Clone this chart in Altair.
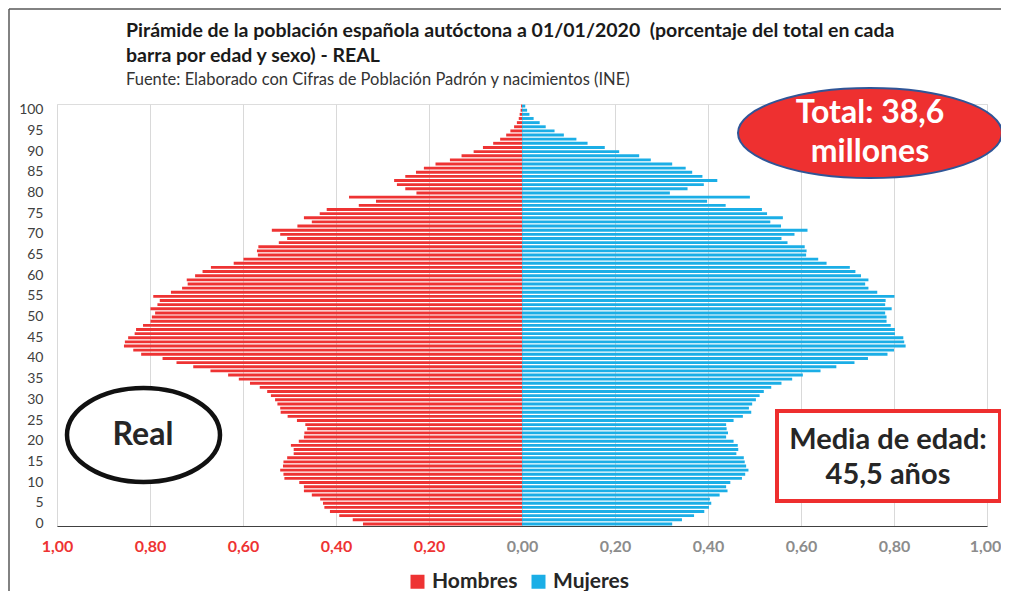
import altair as alt
import pandas as pd

# ---------------- data ----------------
edades = list(range(0, 102))

hombres = [
    0.342, 0.364, 0.393, 0.413, 0.425, 0.428, 0.434, 0.452, 0.469, 0.469,   # 0-9
    0.479, 0.511, 0.513, 0.520, 0.514, 0.513, 0.505, 0.491, 0.491, 0.497,   # 10-19
    0.480, 0.469, 0.468, 0.462, 0.466, 0.484, 0.504, 0.519, 0.520, 0.526,   # 20-29
    0.531, 0.540, 0.548, 0.564, 0.585, 0.609, 0.632, 0.670, 0.707, 0.743,   # 30-39
    0.773, 0.819, 0.836, 0.856, 0.854, 0.847, 0.833, 0.830, 0.815, 0.799,   # 40-49
    0.796, 0.789, 0.799, 0.784, 0.779, 0.793, 0.755, 0.731, 0.719, 0.721,   # 50-59
    0.703, 0.687, 0.669, 0.620, 0.599, 0.568, 0.570, 0.567, 0.523, 0.505,   # 60-69
    0.520, 0.538, 0.483, 0.452, 0.469, 0.435, 0.420, 0.351, 0.314, 0.372,   # 70-79
    0.227, 0.251, 0.269, 0.275, 0.251, 0.228, 0.211, 0.186, 0.155, 0.130,   # 80-89
    0.104, 0.084, 0.062, 0.047, 0.034, 0.025, 0.017, 0.011, 0.007, 0.005,   # 90-99
    0.003, 0.002,                                                           # 100-101
]

mujeres = [
    0.323, 0.344, 0.370, 0.392, 0.402, 0.407, 0.404, 0.425, 0.442, 0.439,   # 0-9
    0.448, 0.473, 0.480, 0.487, 0.482, 0.479, 0.477, 0.461, 0.465, 0.464,   # 10-19
    0.455, 0.439, 0.443, 0.440, 0.439, 0.455, 0.475, 0.493, 0.488, 0.495,   # 20-29
    0.503, 0.511, 0.520, 0.536, 0.558, 0.581, 0.604, 0.642, 0.676, 0.715,   # 30-39
    0.744, 0.786, 0.800, 0.825, 0.822, 0.820, 0.802, 0.802, 0.793, 0.784,   # 40-49
    0.784, 0.781, 0.795, 0.781, 0.782, 0.801, 0.764, 0.745, 0.738, 0.745,   # 50-59
    0.729, 0.717, 0.705, 0.655, 0.637, 0.611, 0.612, 0.608, 0.571, 0.558,   # 60-69
    0.586, 0.614, 0.557, 0.534, 0.561, 0.527, 0.516, 0.438, 0.398, 0.490,   # 70-79
    0.318, 0.356, 0.391, 0.420, 0.388, 0.366, 0.352, 0.323, 0.277, 0.252,   # 80-89
    0.209, 0.178, 0.141, 0.117, 0.090, 0.070, 0.051, 0.038, 0.025, 0.016,   # 90-99
    0.011, 0.007,                                                           # 100-101
]

series = ["Hombres", "Mujeres"]
x_ticks = [-1.0, -0.8, -0.6, -0.4, -0.2, 0.0, 0.2, 0.4, 0.6, 0.8, 1.0]
y_ticks = list(range(0, 101, 5))

titulo = [
    "Pirámide de la población española autóctona a 01/01/2020\u00a0\u00a0(porcentaje del total en cada",
    "barra por edad y sexo) - REAL",
]
fuente = "Fuente: Elaborado con Cifras de Población Padrón y nacimientos (INE)"
txt_total = ["Total: 38,6", "millones"]
txt_real = "Real"
txt_media = ["Media de edad:", "45,5 años"]

RED = "#EE3333"
BLUE = "#1BAEE6"
FONT = "Lato"

df = pd.DataFrame({
    "edad": edades + edades,
    "sexo": [series[0]] * len(edades) + [series[1]] * len(edades),
    "valor": hombres + mujeres,
})

one = pd.DataFrame({"k": [0]})

# ---------------- bars ----------------
bars = alt.Chart(df).transform_calculate(
    x="datum.sexo == 'Hombres' ? -datum.valor : datum.valor"
).mark_bar().encode(
    x=alt.X(
        "x:Q",
        scale=alt.Scale(domain=[-1, 1], nice=False),
        axis=alt.Axis(
            values=x_ticks,
            title=None,
            ticks=False,
            labelPadding=12,
            labelFlush=False,
            labelOverlap=False,
            labelOffset=alt.expr("datum.value >= 1 ? -2 : 0"),
            labelExpr="replace(format(abs(datum.value), '.2f'), '.', ',')",
            labelColor=alt.expr("datum.value < 0 ? '#EE3333' : '#8C8C8C'"),
            labelFont=FONT,
            labelFontSize=16,
            labelFontWeight="bold",
            grid=True,
            gridColor="#D9D9D9",
            gridWidth=1,
            domainColor="#404040",
            domainWidth=1,
        ),
    ),
    y=alt.Y(
        "edad:O",
        sort="descending",
        scale=alt.Scale(paddingInner=0.3, paddingOuter=0.15),
        axis=alt.Axis(
            values=y_ticks,
            title=None,
            ticks=False,
            domain=False,
            grid=False,
            labelPadding=14,
            labelFont=FONT,
            labelFontSize=14,
            labelColor="#404040",
        ),
    ),
    color=alt.Color(
        "sexo:N",
        scale=alt.Scale(domain=series, range=[RED, BLUE]),
        legend=alt.Legend(
            orient="none",
            legendX=350,
            legendY=467,
            direction="horizontal",
            title=None,
            symbolType="square",
            symbolSize=196,
            symbolStrokeWidth=0,
            labelFont=FONT,
            labelFontSize=21,
            labelFontWeight="bold",
            labelColor="#262626",
            columnPadding=10,
            labelOffset=4,
        ),
    ),
)

# ---------------- frame of the figure ----------------
frame_left = alt.Chart(one).mark_rule(color="#595959", strokeWidth=1.5).encode(
    x=alt.value(-48), y=alt.value(-95), y2=alt.value(487)
)
frame_top = alt.Chart(one).mark_rule(color="#595959", strokeWidth=1.5).encode(
    x=alt.value(-48), x2=alt.value(944), y=alt.value(-95)
)

# ---------------- annotations ----------------
ellipse_total = alt.Chart(one).mark_point(
    shape="M-1,0A1,0.341,0,1,0,1,0A1,0.341,0,1,0,-1,0Z",
    size=264 * 264,
    filled=True,
    fill="#EE3030",
    stroke="#2F5597",
    strokeWidth=2,
    opacity=1,
    fillOpacity=1,
).encode(x=alt.value(813), y=alt.value(29))

text_total = alt.Chart(one).mark_text(
    font=FONT, fontSize=32, fontWeight="bold", color="white",
    align="center", baseline="middle", lineHeight=39,
).encode(x=alt.value(813), y=alt.value(9), text=alt.value(txt_total))

ellipse_real = alt.Chart(one).mark_point(
    shape="M-1,0A1,0.614,0,1,0,1,0A1,0.614,0,1,0,-1,0Z",
    size=153 * 153,
    filled=True,
    fill="white",
    stroke="#111111",
    strokeWidth=4.5,
    opacity=1,
    fillOpacity=1,
).encode(x=alt.value(86.5), y=alt.value(331))

text_real = alt.Chart(one).mark_text(
    font=FONT, fontSize=32, fontWeight="bold", color="#262626",
    align="center", baseline="middle",
).encode(x=alt.value(86), y=alt.value(331), text=alt.value(txt_real))

box_media = alt.Chart(one).mark_rect(
    fill="white", stroke="#EE2E2E", strokeWidth=4,
).encode(x=alt.value(720), x2=alt.value(943), y=alt.value(307), y2=alt.value(397))

text_media = alt.Chart(one).mark_text(
    font=FONT, fontSize=29, fontWeight="bold", color="#262626",
    align="center", baseline="middle", lineHeight=35,
).encode(x=alt.value(831), y=alt.value(336), text=alt.value(txt_media))

chart = alt.layer(
    bars, frame_left, frame_top,
    ellipse_total, text_total, ellipse_real, text_real, box_media, text_media,
).properties(
    width=930,
    height=422,
    autosize=alt.AutoSizeParams(type="none"),
    padding={"left": 49, "top": 96, "right": 14, "bottom": 65},
    title=alt.TitleParams(
        text=titulo,
        subtitle=fuente,
        anchor="start",
        frame="group",
        dx=69,
        offset=-81,
        font=FONT,
        fontSize=19.5,
        fontWeight="bold",
        color="#1A1A1A",
        lineHeight=25,
        subtitleFont=FONT,
        subtitleFontSize=16.5,
        subtitleColor="#333333",
        subtitlePadding=5,
        subtitleLineHeight=20,
    ),
).configure_view(stroke=None).configure(background="white")

chart.save("out.html", embed_options={"renderer": "svg", "actions": False})
